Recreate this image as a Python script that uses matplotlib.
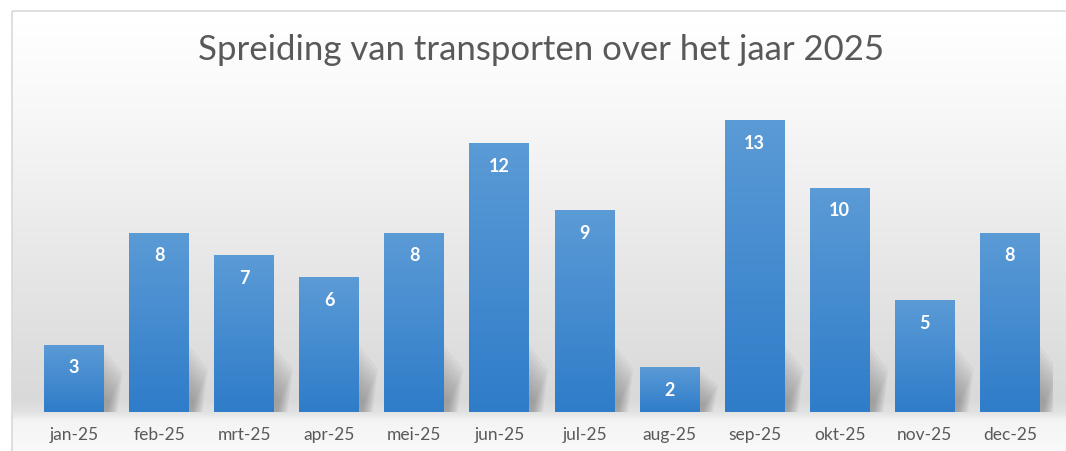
import numpy as np
import matplotlib.pyplot as plt
from matplotlib.colors import LinearSegmentedColormap
from matplotlib.patches import Rectangle, Polygon

maanden = ["jan-25", "feb-25", "mrt-25", "apr-25", "mei-25", "jun-25",
           "jul-25", "aug-25", "sep-25", "okt-25", "nov-25", "dec-25"]
transporten = [3, 8, 7, 6, 8, 12, 9, 2, 13, 10, 5, 8]
titel = "Spreiding van transporten over het jaar 2025"

plt.rcParams['font.family'] = ['Lato', 'DejaVu Sans']

W, H = 1066, 452
fig = plt.figure(figsize=(W / 100, H / 100), dpi=100)

# background panel with vertical gradient
bg = fig.add_axes([0, 0, 1, 1], zorder=-10)
bg.set_xlim(0, W)
bg.set_ylim(H, 0)
bg.axis("off")
stops = [(0, "#ffffff"), (12, "#ffffff"), (100, "#f8f8f8"), (250, "#e8e8e8"),
         (400, "#d9d9d9"), (413, "#e2e2e2"), (422, "#f4f4f4"), (452, "#f9f9f9")]
cmap = LinearSegmentedColormap.from_list("bg", [(p / H, c) for p, c in stops])
grad = np.linspace(0, 1, 500).reshape(-1, 1)
bg.imshow(grad, cmap=cmap, extent=[12, W + 5, H, 12], aspect="auto", vmin=0, vmax=1)
bg.add_patch(Rectangle((12, 12), W, H, fill=False, edgecolor="#d9d9d9", linewidth=1.2))

ax = fig.add_axes([31.5 / W, (H - 413) / H, 1021 / W, 314 / H])
ax.patch.set_alpha(0)
x = np.arange(len(maanden))
bars = ax.bar(x, transporten, width=0.705, color="#4a8fd3", zorder=3)
ax.set_xlim(-0.5, len(maanden) - 0.5)
ax.set_ylim(0, 14)

# soft shadows behind bars
for b in bars:
    x0 = b.get_x() + b.get_width()
    h = min(b.get_height(), 3.2)
    for k in range(10):
        f = 1 - k * 0.08
        sh = Polygon([(x0 - 0.05, 0), (x0 - 0.05, h * f),
                      (x0 + 0.22 * f, h * f * 0.6),
                      (x0 + 0.16 * f, 0)],
                     closed=True, facecolor="#404040", alpha=0.045,
                     edgecolor="none", zorder=2)
        ax.add_patch(sh)

# gradient fill of bars
bar_cmap = LinearSegmentedColormap.from_list("bar", ["#5b9bd6", "#2f7cc9"])
for b in bars:
    im = ax.imshow(grad, cmap=bar_cmap, aspect="auto", zorder=4,
                   extent=[b.get_x(), b.get_x() + b.get_width(), 0, b.get_height()])
    im.set_clip_path(b)

for b, v in zip(bars, transporten):
    ax.annotate(str(v), (b.get_x() + b.get_width() / 2, v), xytext=(0, -16),
                textcoords="offset points", ha="center", va="center",
                color="white", fontsize=13, fontweight="bold", zorder=5)

ax.set_xticks(x)
ax.set_xticklabels(maanden, fontsize=12.5, color="#595959")
ax.tick_params(axis="x", length=0, pad=10)
ax.set_yticks([])
for s in ax.spines.values():
    s.set_visible(False)

fig.text(541 / W, 1 - 50 / H, titel, ha="center", va="center",
         fontsize=25, color="#595959")

fig.savefig("out.png", dpi=100)
